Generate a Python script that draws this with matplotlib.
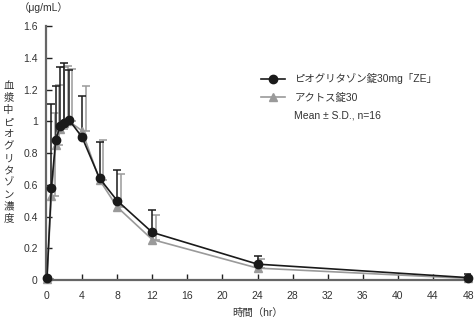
import matplotlib
matplotlib.use("Agg")
import matplotlib.pyplot as plt
import matplotlib.transforms as mtransforms
from matplotlib.lines import Line2D
from matplotlib.ticker import FormatStrFormatter

plt.rcParams['font.family'] = ['Liberation Sans', 'Noto Sans CJK JP', 'DejaVu Sans']

# Sampling times (hr)
times = [0, 0.5, 1, 1.5, 2, 2.5, 4, 6, 8, 12, 24, 48]

# ピオグリタゾン錠30mg「ZE」: mean and S.D. (μg/mL)
ze_mean = [0.01, 0.58, 0.88, 0.97, 0.99, 1.01, 0.90, 0.64, 0.50, 0.30, 0.10, 0.015]
ze_sd = [0.0, 0.53, 0.34, 0.37, 0.38, 0.31, 0.26, 0.23, 0.19, 0.14, 0.05, 0.025]

# アクトス錠30: mean and S.D. (μg/mL)
ac_mean = [0.005, 0.53, 0.85, 0.95, 0.99, 1.00, 0.94, 0.63, 0.46, 0.255, 0.075, 0.01]
ac_sd = [0.0, 0.52, 0.38, 0.39, 0.36, 0.33, 0.28, 0.25, 0.21, 0.155, 0.055, 0.02]

series_labels = ['ピオグリタゾン錠30mg「ZE」', 'アクトス錠30']
stat_note = 'Mean ± S.D., n=16'
x_ticks = list(range(0, 49, 4))
y_ticks = [0, 0.2, 0.4, 0.6, 0.8, 1.0, 1.2, 1.4, 1.6]

fig = plt.figure(figsize=(4.76, 3.23), dpi=100)
ax = fig.add_axes([0.0966, 0.1331, 0.891, 0.7864])

black = '#1a1a1a'
gray = '#9a9a9a'
text_color = '#333333'

# upper-only error bars; the reference product's bars are nudged to the right
shift = mtransforms.ScaledTranslation(2.5 / 72, 0, fig.dpi_scale_trans)
ax.errorbar(times, ac_mean, yerr=[[0] * len(ac_sd), ac_sd], fmt='none',
            ecolor=gray, elinewidth=1.1, capsize=3, capthick=1.1,
            transform=ax.transData + shift, zorder=2)
ax.errorbar(times, ze_mean, yerr=[[0] * len(ze_sd), ze_sd], fmt='none',
            ecolor=black, elinewidth=1.1, capsize=3, capthick=1.1, zorder=3)

ax.plot(times, ac_mean, color=gray, lw=1.2, marker='^', ms=6,
        mfc=gray, mec=gray, zorder=4, clip_on=False)
ax.plot(times, ze_mean, color=black, lw=1.2, marker='o', ms=6,
        mfc=black, mec=black, zorder=5, clip_on=False)

ax.set_xlim(-0.11, 48.23)
ax.set_ylim(0, 1.6)
ax.set_xticks(x_ticks)
ax.set_yticks(y_ticks)
ax.yaxis.set_major_formatter(FormatStrFormatter('%g'))

for side in ('top', 'right'):
    ax.spines[side].set_visible(False)
for side in ('left', 'bottom'):
    ax.spines[side].set_color('#666666')
    ax.spines[side].set_linewidth(1.6)

ax.tick_params(direction='in', length=4, width=1.0, color='#222222',
               labelsize=7.5, labelcolor=text_color)
ax.tick_params(axis='x', pad=8)
ax.tick_params(axis='y', pad=6)

ax.set_xlabel('時間（hr）', fontsize=7.5, color=text_color, labelpad=5)

# vertical (stacked) y-axis title and unit
ylabel = '血漿中ピオグリタゾン濃度'
fig.text(0.018, 0.528, '\n'.join(ylabel), fontsize=7.5, color=text_color,
         ha='center', va='center', linespacing=1.25)
fig.text(0.092, 0.978, '（μg/mL）', fontsize=7.5, color=text_color,
         ha='center', va='center')

handles = [
    Line2D([], [], color=black, lw=1.2, marker='o', ms=6, mfc=black, mec=black),
    Line2D([], [], color=gray, lw=1.2, marker='^', ms=6, mfc=gray, mec=gray),
    Line2D([], [], color='none'),
]
leg = ax.legend(handles, series_labels + [stat_note], loc='upper left',
                bbox_to_anchor=(0.485, 0.85), frameon=False, fontsize=7.5,
                handlelength=2.3, handletextpad=0.9, labelspacing=0.75)
for t in leg.get_texts():
    t.set_color(text_color)

fig.savefig('out.png', dpi=100)
